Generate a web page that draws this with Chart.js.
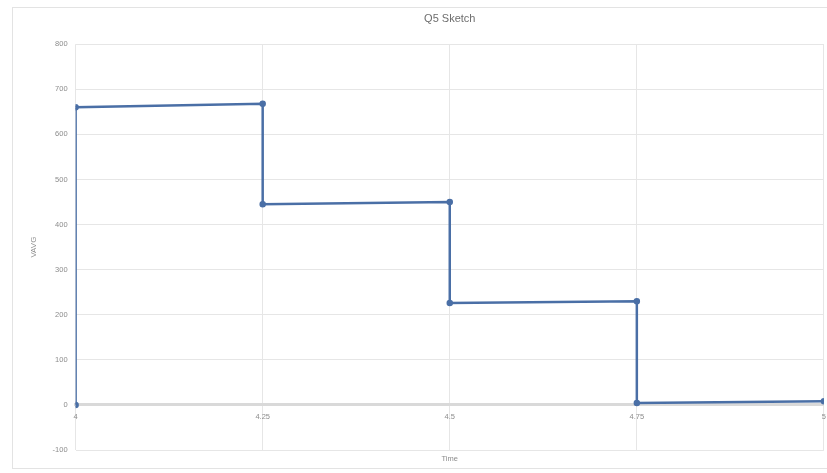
<!DOCTYPE html>
<html>
<head>
<meta charset="utf-8">
<script src="https://cdn.jsdelivr.net/npm/chart.js@4.4.1/dist/chart.umd.min.js"></script>
<style>
  html, body { margin: 0; padding: 0; background: #fff; overflow: hidden; }
  #frame {
    position: absolute; left: 12px; top: 7px;
    width: 821px; height: 462px;
    border: 1px solid #e3e3e3; box-sizing: border-box;
  }
  #chart { display: block; }
</style>
</head>
<body>
<div id="frame"><canvas id="chart" width="821" height="462"></canvas></div>
<script>
// step data
const timeVals = [4, 4, 4.25, 4.25, 4.5, 4.5, 4.75, 4.75, 5];
const vavgVals = [0, 660, 668, 445, 450, 226, 230, 4, 8];
const xTicks = [4, 4.25, 4.5, 4.75, 5];

const points = timeVals.map((t, i) => ({ x: t, y: vavgVals[i] }));

const grey = "#8c8c8c";
const gridCol = "#e6e6e6";

new Chart(document.getElementById("chart"), {
    type: "scatter",
    data: {
        datasets: [{
            label: "VAVG",
            data: points,
            showLine: true,
            borderColor: "#4a6fa6",
            backgroundColor: "#4a6fa6",
            borderWidth: 2.5,
            pointRadius: 2,
            tension: 0
        }]
    },
    options: {
        responsive: false,
        animation: false,
        layout: { padding: { left: 16, right: 2, top: 0, bottom: 7 } },
        plugins: {
            legend: { display: false },
            tooltip: { enabled: false },
            title: {
                display: true,
                text: "Q5 Sketch",
                fullSize: false,
                color: "#6e6e6e",
                font: { family: "Liberation Sans", size: 11, weight: "normal" },
                padding: { top: 4, bottom: 19 }
            }
        },
        scales: {
            x: {
                type: "linear",
                position: { y: 0 },
                min: 4,
                max: 5,
                afterBuildTicks: (axis) => { axis.ticks = xTicks.map(v => ({ value: v })); },
                ticks: {
                    color: grey,
                    font: { family: "Liberation Sans", size: 7.5 },
                    padding: 8,
                    callback: (v) => String(v)
                },
                grid: { color: gridCol, drawTicks: false },
                border: { color: "#d9d9d9", width: 3 }
            },
            xTitle: {
                type: "linear",
                position: "bottom",
                min: 4,
                max: 5,
                ticks: { display: false },
                grid: { display: false, drawTicks: false },
                border: { display: false },
                title: {
                    display: true,
                    text: "Time",
                    color: grey,
                    font: { family: "Liberation Sans", size: 7.5 },
                    padding: { top: 4, bottom: 0 }
                }
            },
            y: {
                min: -100,
                max: 800,
                ticks: {
                    stepSize: 100,
                    color: grey,
                    font: { family: "Liberation Sans", size: 7.5 },
                    padding: 8
                },
                grid: { color: gridCol, drawTicks: false },
                border: { display: false },
                title: {
                    display: true,
                    text: "VAVG",
                    color: grey,
                    font: { family: "Liberation Sans", size: 8 },
                    padding: { top: 0, bottom: 6 }
                }
            }
        }
    }
});
</script>
</body>
</html>
